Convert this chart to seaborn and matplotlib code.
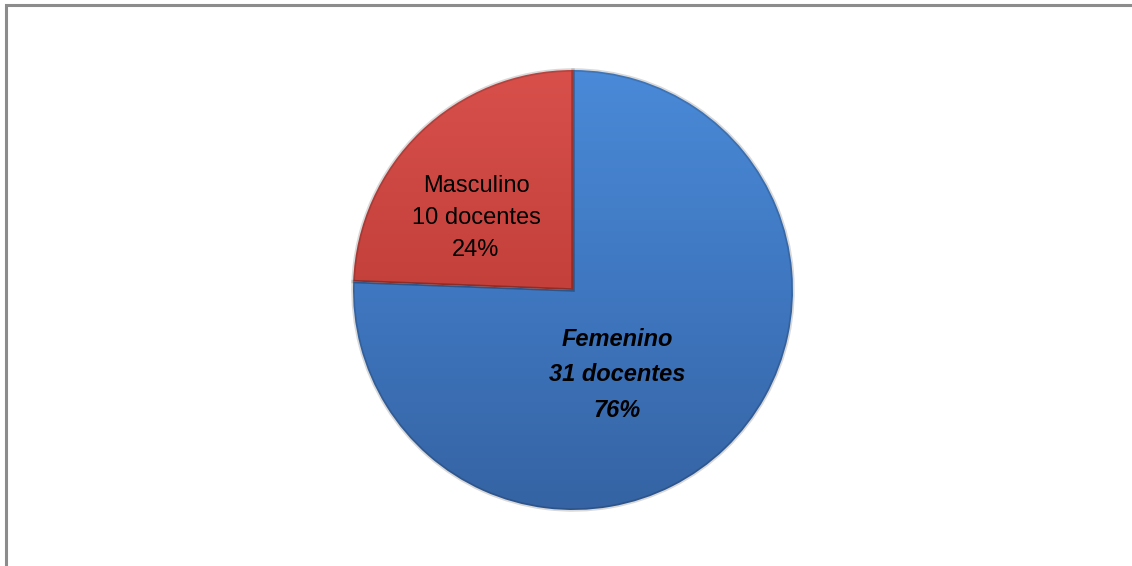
import numpy as np
import matplotlib
matplotlib.use("Agg")
import matplotlib.pyplot as plt
from matplotlib.colors import LinearSegmentedColormap
from matplotlib.patches import Rectangle
import seaborn as sns

# Teachers by sex
categories = ["Femenino", "Masculino"]
counts = [31, 10]

sns.set_theme(style="white")
plt.rcParams["font.family"] = ["Liberation Sans", "DejaVu Sans"]

W, H = 1132, 566
fig = plt.figure(figsize=(W / 100, H / 100), dpi=100)
fig.patch.set_facecolor("white")

# Outer frame (top and left visible)
fig.patches.append(Rectangle((6 / W, -0.1), 1.2, (H - 5) / H + 0.1,
                             transform=fig.transFigure, fill=False,
                             edgecolor="#8c8c8c", linewidth=2.2))

cx, cy, r = 573, 290, 220
ax = fig.add_axes([(cx - r) / W, (H - cy - r) / H, 2 * r / W, 2 * r / H])
ax.set_aspect("equal")

base = ["#3f78c4", "#c8403b"]
wedges, _ = ax.pie(counts, startangle=90, counterclock=False, colors=base,
                   wedgeprops=dict(linewidth=0))

# Vertical gradient shading on each slice
grads = [
    LinearSegmentedColormap.from_list("b", ["#3563a3", "#3f77c0", "#4a8ad8"]),
    LinearSegmentedColormap.from_list("r", ["#a8322e", "#c3403b", "#d9504b"]),
]
yy = np.linspace(0, 1, 256).reshape(-1, 1)
for w, cm in zip(wedges, grads):
    im = ax.imshow(yy, cmap=cm, extent=(-1.02, 1.02, -1.02, 1.02),
                   origin="lower", aspect="auto", zorder=w.get_zorder() + 0.1)
    im.set_clip_path(w)
    # bevel-like darker rim
    w.set_edgecolor((0, 0, 0, 0.15))
    w.set_linewidth(2.5)
    w.set_zorder(w.get_zorder() + 0.2)
    w.set_facecolor("none")

total = sum(counts)
pcts = [round(100 * c / total) for c in counts]

ax.text(0.2, -0.386,
        f"{categories[0]}\n{counts[0]} docentes\n{pcts[0]}%",
        ha="center", va="center", fontsize=17, fontweight="bold",
        fontstyle="italic", color="black", linespacing=1.7, zorder=10)
ax.text(-0.441, 0.327,
        f"{categories[1]}\n{counts[1]} docentes\n{pcts[1]}%",
        ha="center", va="center", fontsize=17, color="black",
        linespacing=1.6, zorder=10)

ax.set_xlim(-1, 1)
ax.set_ylim(-1, 1)
ax.axis("off")

fig.savefig("out.png", dpi=100, facecolor="white")
